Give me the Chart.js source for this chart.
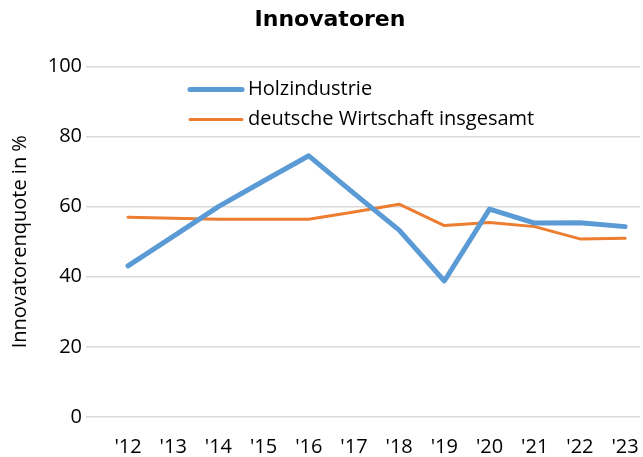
<!DOCTYPE html>
<html>
<head>
<meta charset="utf-8">
<script src="https://cdn.jsdelivr.net/npm/chart.js@4"></script>
<style>
  html, body { margin: 0; padding: 0; background: #fff; }
</style>
</head>
<body>
<canvas id="chart" width="643" height="457"></canvas>
<script>
// Data
const yearLabels = ["'12", "'13", "'14", "'15", "'16", "'17", "'18", "'19", "'20", "'21", "'22", "'23"];
const holzindustrie = [43.1, 51.5, 60.0, 67.3, 74.5, 63.8, 53.3, 38.8, 59.3, 55.3, 55.4, 54.3];
const deutscheWirtschaft = [57.0, 56.7, 56.4, 56.4, 56.4, 58.5, 60.7, 54.6, 55.5, 54.3, 50.8, 51.0];
const yMin = 0;
const yMax = 100;
const yStep = 20;

const labelFont = "'Open Sans', sans-serif";

// Legend drawn inside the plot area, like the original
const innerLegend = {
    id: 'innerLegend',
    afterDatasetsDraw(chart) {
        const ctx = chart.ctx;
        const area = chart.chartArea;
        ctx.save();
        chart.data.datasets.forEach((ds, i) => {
            const y = area.top + 23 + i * 30;
            const x0 = area.left + 104;
            ctx.beginPath();
            ctx.strokeStyle = ds.borderColor;
            ctx.lineWidth = ds.borderWidth;
            ctx.lineCap = 'round';
            ctx.moveTo(x0, y);
            ctx.lineTo(x0 + 52, y);
            ctx.stroke();
            ctx.fillStyle = '#000';
            ctx.font = "20px " + labelFont;
            ctx.textBaseline = 'middle';
            ctx.textAlign = 'left';
            ctx.fillText(ds.label, x0 + 58, y);
        });
        ctx.restore();
    }
};

const ctx = document.getElementById('chart').getContext('2d');
const chart = new Chart(ctx, {
    type: 'line',
    data: {
        datasets: [{
            label: 'Holzindustrie',
            data: holzindustrie.map((v, i) => ({ x: i, y: v })),
            borderColor: '#5B9BD5',
            borderWidth: 5,
            borderCapStyle: 'round',
            borderJoinStyle: 'round',
            pointRadius: 0,
            tension: 0
        }, {
            label: 'deutsche Wirtschaft insgesamt',
            data: deutscheWirtschaft.map((v, i) => ({ x: i, y: v })),
            borderColor: '#ED7D31',
            borderWidth: 3,
            borderCapStyle: 'round',
            borderJoinStyle: 'round',
            pointRadius: 0,
            tension: 0
        }]
    },
    options: {
        responsive: false,
        animation: false,
        // left padding shifts the title a bit to the right, like the original
        layout: { padding: { left: 20, right: 3, top: 0, bottom: 0 } },
        plugins: {
            legend: { display: false },
            tooltip: { enabled: false },
            title: {
                display: true,
                text: 'Innovatoren',
                color: '#000',
                font: { family: "'DejaVu Sans'", weight: 'bold', size: 22 },
                padding: { top: 7, bottom: 33 }
            }
        },
        scales: {
            x: {
                type: 'linear',
                min: -0.93,
                max: 11.33,
                grid: { display: false },
                border: { display: false },
                afterFit: (scale) => { scale.height = 40; scale.paddingLeft = 0; scale.paddingRight = 0; },
                afterBuildTicks: (scale) => {
                    scale.ticks = yearLabels.map((_, i) => ({ value: i }));
                },
                ticks: {
                    autoSkip: false,
                    maxRotation: 0,
                    padding: 10,
                    color: '#000',
                    font: { family: labelFont, size: 20 },
                    callback: (v) => yearLabels[v]
                }
            },
            y: {
                min: yMin,
                max: yMax,
                grid: { color: '#D9D9D9', lineWidth: 1.5, drawTicks: false },
                border: { display: false },
                afterFit: (scale) => { scale.width = 66; },
                title: {
                    display: true,
                    text: 'Innovatorenquote in %',
                    color: '#000',
                    font: { family: labelFont, size: 20 },
                    padding: { top: -12, bottom: 0 }
                },
                ticks: {
                    stepSize: yStep,
                    padding: 4,
                    color: '#000',
                    font: { family: labelFont, size: 20 }
                }
            }
        }
    },
    plugins: [innerLegend]
});
</script>
</body>
</html>
